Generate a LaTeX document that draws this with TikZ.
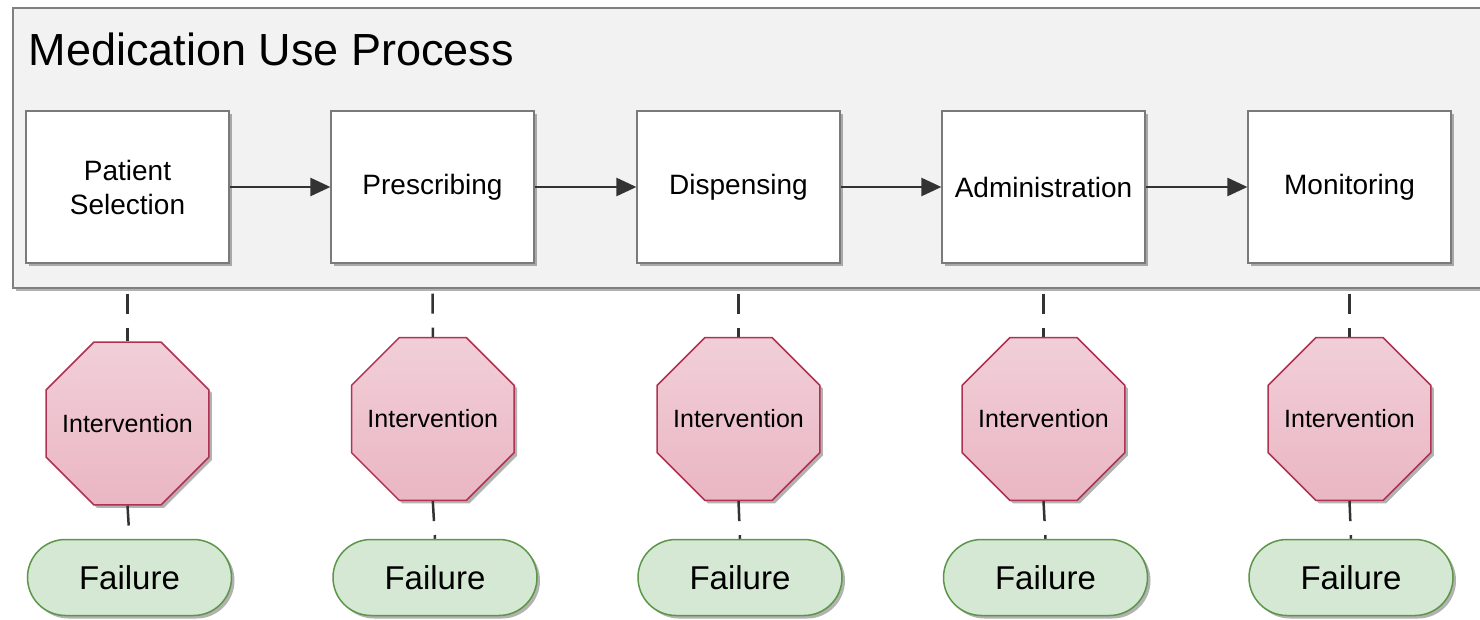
\documentclass[tikz,border=0pt]{standalone}
\usepackage{fontspec}
\setmainfont{Liberation Sans}
\usetikzlibrary{shapes.geometric,shapes.misc,shadows,arrows.meta,backgrounds}

\definecolor{panelfill}{HTML}{F2F2F2}
\definecolor{panelline}{HTML}{808080}
\definecolor{boxline}{HTML}{7A7A7A}
\definecolor{linkcol}{HTML}{333333}
\definecolor{octline}{RGB}{176,50,82}
\definecolor{octtop}{RGB}{241,207,216}
\definecolor{octbot}{RGB}{234,182,195}
\definecolor{failfill}{HTML}{D5E8D4}
\definecolor{failline}{RGB}{92,150,72}

\begin{document}
\begin{tikzpicture}[x=1pt,y=-1pt,
  soft shadow/.style={drop shadow={shadow xshift=3pt,shadow yshift=-3pt,fill=black,opacity=0.3}},
  panel/.style={draw=panelline,line width=1.2pt,fill=panelfill,soft shadow},
  stepbox/.style={draw=boxline,line width=1.2pt,fill=white,minimum width=203pt,
    minimum height=152pt,inner sep=0pt,align=center,
    font=\fontsize{28}{34}\selectfont,soft shadow},
  guard/.style={regular polygon,regular polygon sides=8,minimum size=176pt,inner sep=0pt,
    draw=octline,line width=1.5pt,top color=octtop,bottom color=octbot,soft shadow,
    label={[font=\fontsize{25}{30}\selectfont,inner sep=0pt]center:#1}},
  fail/.style={rounded rectangle,draw=failline,line width=1.5pt,fill=failfill,
    minimum width=204pt,minimum height=76pt,inner sep=0pt,
    font=\fontsize{33}{40}\selectfont,soft shadow},
  flow/.style={draw=linkcol,line width=2.5pt,-{Triangle[length=20pt,width=18pt]}},
  tie/.style={draw=linkcol,line width=2.5pt,dash pattern=on 20pt off 14pt}
]
\useasboundingbox (0,0) rectangle (1480,620);

% process steps
\node[stepbox] (s1) at (127.5,187) {Patient\\Selection};
\node[stepbox] (s2) at (432.5,187) {Prescribing};
\node[stepbox] (s3) at (738.5,187) {Dispensing};
\node[stepbox] (s4) at (1043.5,187) {Administration};
\node[stepbox] (s5) at (1349.5,187) {Monitoring};

% interventions (octagon with its caption centred inside)
\node[guard=Intervention] (g1) at (127.5,423.5) {};
\node[guard=Intervention] (g2) at (432.8,419) {};
\node[guard=Intervention] (g3) at (738.5,419) {};
\node[guard=Intervention] (g4) at (1043.5,419) {};
\node[guard=Intervention] (g5) at (1349.5,419) {};

% failures
\node[fail] (f1) at (129.5,577.5) {Failure};
\node[fail] (f2) at (435,577.5) {Failure};
\node[fail] (f3) at (740,577.5) {Failure};
\node[fail] (f4) at (1045.5,577.5) {Failure};
\node[fail] (f5) at (1351,577.5) {Failure};

% container and the links running behind it
\begin{pgfonlayer}{background}
  \foreach \i in {1,...,5} {
    \draw[tie,dash phase=4pt] (s\i.south) -- (g\i.north);
  }
  \path[panel] (13,8) rectangle (1500,288);
\end{pgfonlayer}
\node[anchor=base west,font=\fontsize{45}{54}\selectfont] (title) at (25,66) {Medication Use Process};

% flow between steps
\draw[flow] (s1.east) -- (s2.west);
\draw[flow] (s2.east) -- (s3.west);
\draw[flow] (s3.east) -- (s4.west);
\draw[flow] (s4.east) -- (s5.west);

% intervention to failure links
\foreach \i in {1,...,5} {
  \draw[tie] (g\i.south) -- (f\i.north);
}
\end{tikzpicture}
\end{document}
